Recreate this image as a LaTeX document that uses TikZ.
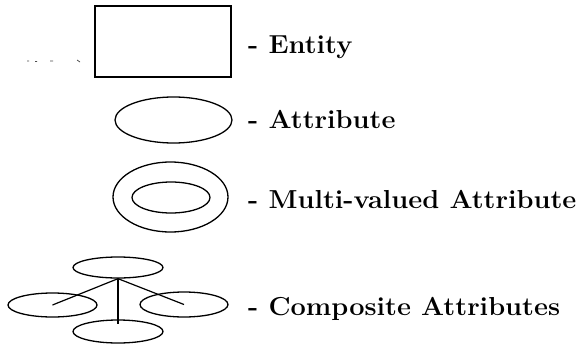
\documentclass[tikz,border=0pt]{standalone}
\usetikzlibrary{shapes.geometric,calc}
\newcommand{\wideTxt}[1]{\scalebox{1.045}[1]{#1}}
\begin{document}
\begin{tikzpicture}[x=1pt,y=-1pt,
  shp/.style={draw=black,line width=1.3pt,inner sep=0pt},
  ell/.style={shp,ellipse},
  lbl/.style={anchor=base west,inner sep=0pt,font=\fontsize{26}{30}\selectfont\bfseries},
  link/.style={draw=black,line width=1.2pt},
  faint/.style={draw=black!70,line width=0.8pt}]
\useasboundingbox (0,0) rectangle (577,345);
% Entity
\node[shp,rectangle,minimum width=136pt,minimum height=71pt] (ent) at (163,41.5) {};
\draw[faint] (27,61) -- (29,61) (35,61.5) -- (37,61.5) (50,61) -- (53,61) (77,60) -- (80,62);
\node[lbl] (tent) at (248,53) {\wideTxt{- Entity}};
% Attribute
\node[ell,minimum width=117pt,minimum height=46pt] (att) at (173.5,120) {};
\node[lbl] (tatt) at (248,128) {\wideTxt{- Attribute}};
% Multi-valued
\node[ell,minimum width=115pt,minimum height=70pt] (mvo) at (170.5,197) {};
\node[ell,minimum width=78pt,minimum height=31pt] (mvi) at (171,197.5) {};
\node[lbl] (tmv) at (248,208) {\wideTxt{- Multi-valued Attribute}};
% Composite
\node[ell,minimum width=90pt,minimum height=21pt] (ctop) at (118,267.5) {};
\node[ell,minimum width=89pt,minimum height=24pt] (cleft) at (52.5,305) {};
\node[ell,minimum width=88pt,minimum height=25pt] (cright) at (184,304.5) {};
\node[ell,minimum width=90pt,minimum height=23pt] (cbot) at (118,331.5) {};
\coordinate (vend) at ($(cbot.north)+(0,5)$);
\draw[link] (ctop.south) -- (cleft.center);
\draw[link] (ctop.south) -- (cright.center);
\draw[link] (ctop.south) -- (vend);
\node[lbl] (tcomp) at (248,315) {\wideTxt{- Composite Attributes}};
\end{tikzpicture}
\end{document}
